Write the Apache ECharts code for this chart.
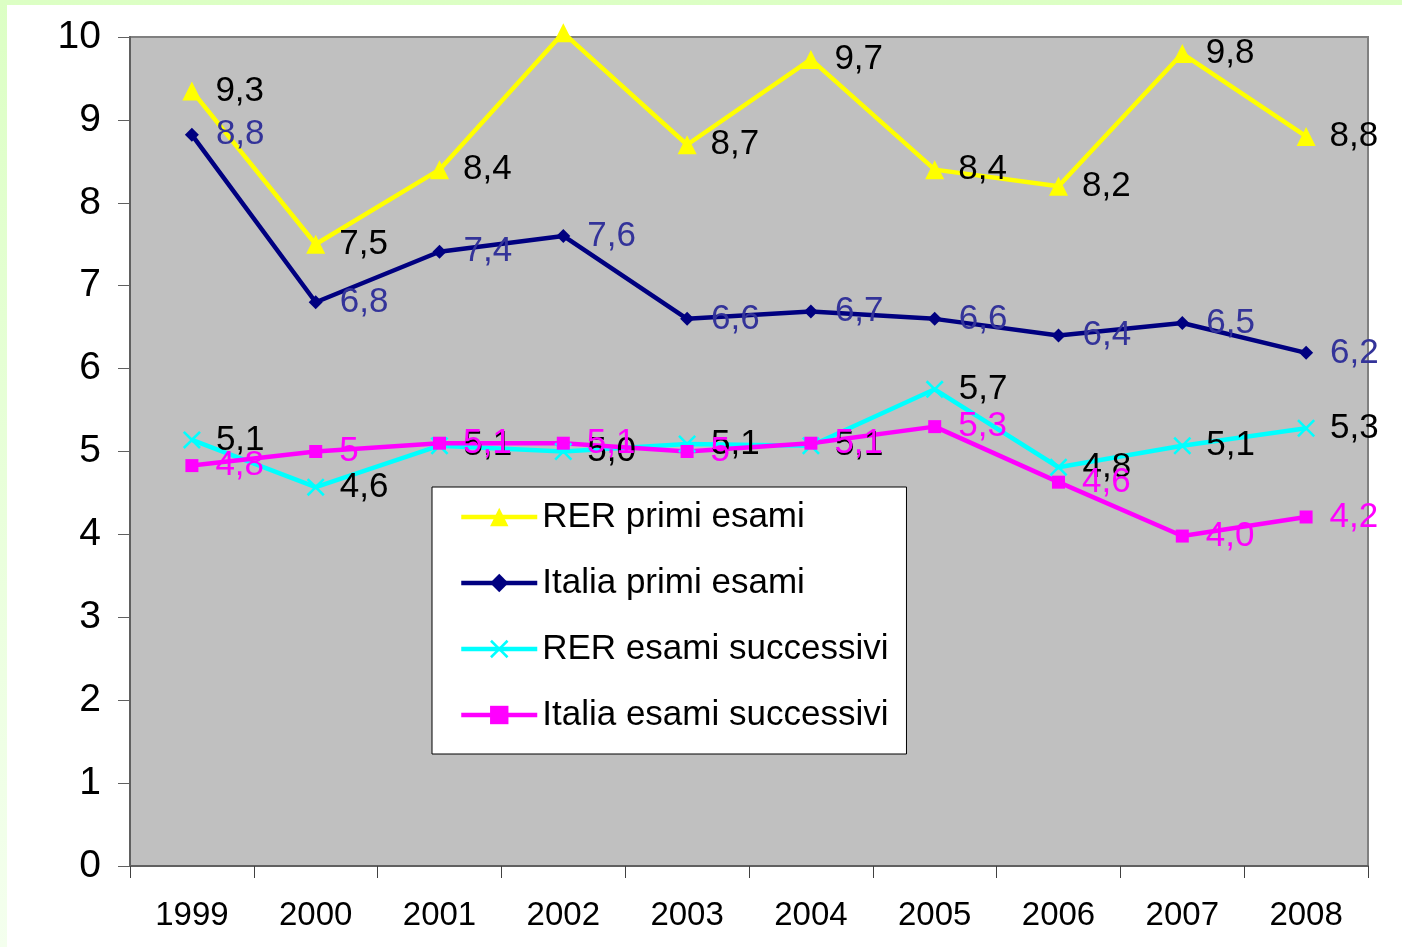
<!DOCTYPE html>
<html>
<head>
<meta charset="utf-8">
<script src="https://cdn.jsdelivr.net/npm/echarts@6/dist/echarts.min.js"></script>
<style>
  html, body { margin: 0; padding: 0; }
  body {
    width: 1402px; height: 947px; position: relative; overflow: hidden;
    background: linear-gradient(to bottom, #dcffc4, #f4ffee);
  }
  #chart {
    position: absolute; left: 7px; top: 5px;
    width: 1395px; height: 942px; background: #ffffff;
  }
</style>
</head>
<body>
<div id="chart"></div>
<script>
const years = ['1999', '2000', '2001', '2002', '2003', '2004', '2005', '2006', '2007', '2008'];

// valori
const rerPrimi = [9.35, 7.5, 8.4, 10.05, 8.7, 9.73, 8.4, 8.2, 9.8, 8.8];
const italiaPrimi = [8.82, 6.8, 7.41, 7.6, 6.6, 6.69, 6.6, 6.4, 6.55, 6.19];
const rerSucc = [5.14, 4.57, 5.07, 5.0, 5.09, 5.07, 5.75, 4.81, 5.07, 5.28];
const italiaSucc = [4.83, 5.0, 5.1, 5.1, 5.0, 5.1, 5.3, 4.63, 3.98, 4.21];

// etichette come nel grafico originale
const rerPrimiLbl = ['9,3', '7,5', '8,4', '', '8,7', '9,7', '8,4', '8,2', '9,8', '8,8'];
const italiaPrimiLbl = ['8,8', '6,8', '7,4', '7,6', '6,6', '6,7', '6,6', '6,4', '6,5', '6,2'];
const rerSuccLbl = ['5,1', '4,6', '5,1', '5,0', '5,1', '5,1', '5,7', '4,8', '5,1', '5,3'];
const italiaSuccLbl = ['4,8', '5', '5,1', '5,1', '5', '5,1', '5,3', '4,6', '4,0', '4,2'];

const FONT = '"Liberation Sans", Arial, sans-serif';
const crossPath = 'path://M2,0 L10,8 L18,0 L20,2 L12,10 L20,18 L18,20 L10,12 L2,20 L0,18 L8,10 L0,2 Z';

function mkSeries(name, values, labels, color, symbol, size, labelColor, dist) {
  return {
    name: name,
    type: 'line',
    data: values,
    symbol: symbol,
    symbolSize: size,
    clip: false,
    lineStyle: { color: color, width: 4.5 },
    itemStyle: { color: color },
    label: {
      show: true,
      position: 'right',
      distance: dist,
      color: labelColor,
      fontFamily: FONT,
      fontSize: 35,
      formatter: (p) => labels[p.dataIndex]
    },
    emphasis: { disabled: true },
    animation: false
  };
}

const chart = echarts.init(document.getElementById('chart'));
chart.setOption({
  animation: false,
  grid: {
    left: 123, top: 32, width: 1238, height: 829,
    show: true, backgroundColor: '#c0c0c0', borderColor: '#808080', borderWidth: 2
  },
  legend: {
    orient: 'vertical',
    left: 425, top: 482,
    backgroundColor: '#ffffff',
    borderColor: '#000000',
    borderWidth: 1,
    padding: [11, 18, 20, 27],
    itemWidth: 76,
    itemHeight: 23,
    itemGap: 28,
    lineStyle: { width: 4.5 },
    textStyle: { fontFamily: FONT, fontSize: 35, color: '#000', lineHeight: 38 },
    data: ['RER primi esami', 'Italia primi esami', 'RER esami successivi', 'Italia esami successivi']
  },
  xAxis: {
    type: 'category',
    data: years,
    boundaryGap: true,
    axisLine: { lineStyle: { color: '#606060', width: 2 } },
    axisTick: { show: true, length: 12, lineStyle: { color: '#404040', width: 1 } },
    axisLabel: { fontFamily: FONT, fontSize: 33, color: '#000', margin: 33 }
  },
  yAxis: {
    type: 'value',
    min: 0, max: 10, interval: 1,
    splitLine: { show: false },
    axisLine: { show: true, lineStyle: { color: '#606060', width: 2 } },
    axisTick: { show: true, length: 12, lineStyle: { color: '#606060', width: 1 } },
    axisLabel: { fontFamily: FONT, fontSize: 39, color: '#000', margin: 29 }
  },
  series: [
    mkSeries('RER primi esami', rerPrimi, rerPrimiLbl, '#ffff00', 'triangle', 19, '#000000', 14),
    mkSeries('Italia primi esami', italiaPrimi, italiaPrimiLbl, '#000080', 'diamond', 14, '#333399', 17),
    mkSeries('RER esami successivi', rerSucc, rerSuccLbl, '#00ffff', crossPath, 18, '#000000', 15),
    mkSeries('Italia esami successivi', italiaSucc, italiaSuccLbl, '#ff00ff', 'rect', 13, '#ff00ff', 17)
  ]
});
</script>
</body>
</html>
